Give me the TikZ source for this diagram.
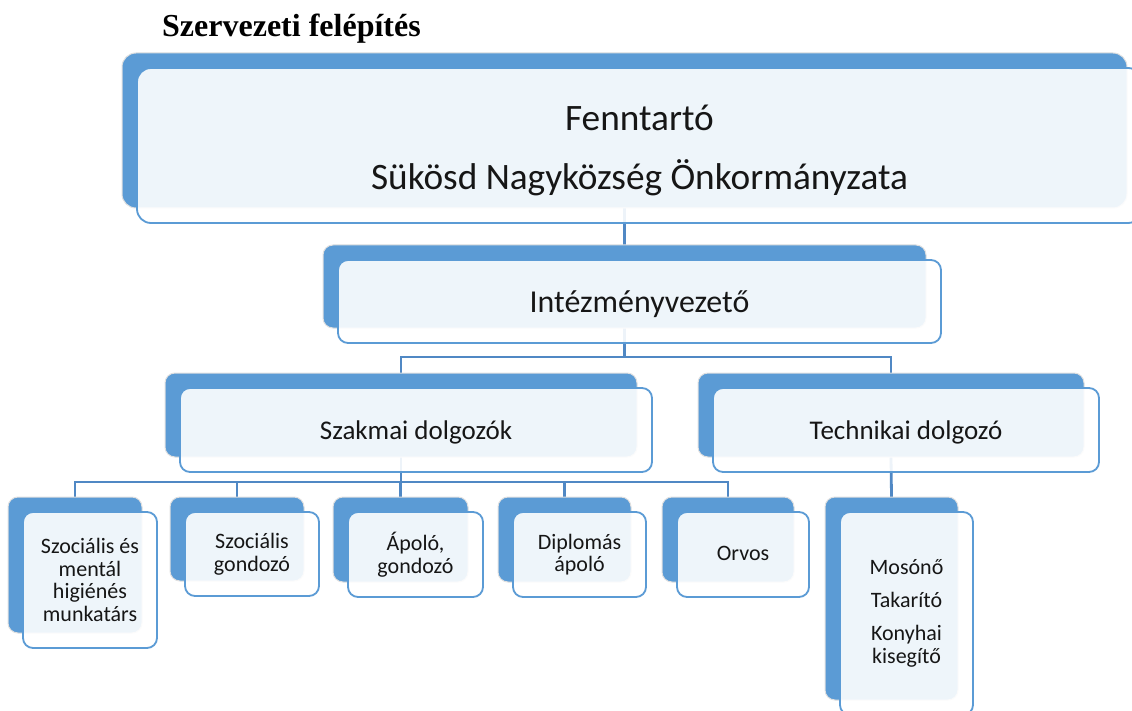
\documentclass[tikz,border=0pt]{standalone}
\usepackage{fontspec}
\setmainfont{Carlito}
\newfontfamily\titlefont{Liberation Serif}
\usetikzlibrary{backgrounds}
\definecolor{boxblue}{RGB}{91,155,213}
\definecolor{linkblue}{RGB}{80,136,196}
\definecolor{txt}{RGB}{22,22,22}
\tikzset{
  backbox/.style={fill=boxblue, draw=black!12, line width=1pt, rounded corners=10pt,
    inner sep=0pt, outer sep=0pt, anchor=north west},
  frontbox/.style={fill=white, fill opacity=0.9, draw=boxblue,
    line width=1.8pt, rounded corners=10pt, inner sep=0pt, outer sep=0pt,
    anchor=north west},
  boxtext/.style={align=center, text=txt, inner sep=0pt},
  link/.style={draw=linkblue, line width=2.8pt},
}
% name, x, y, w, h, extra style, text y offset, font, text
\newcommand\orgbox[9]{%
  \node[backbox, minimum width=#4, minimum height=#5, #6] (#1B) at (#2,#3) {};
  \node[frontbox, minimum width=#4, minimum height=#5, #6] (#1F) at ({#2+15},{#3+15}) {};
  \node[boxtext, font=#8] (#1T) at ([yshift=-#7pt]#1F.center) {#9};}
\begin{document}
\begin{tikzpicture}[x=1pt, y=-1pt]
\useasboundingbox (0,0) rectangle (1132,711);
\clip (0,0) rectangle (1132,711);
\node[anchor=base west, inner sep=0pt, font=\titlefont\bfseries\fontsize{32}{34}\selectfont] (title) at (162,37) {Szervezeti felépítés};

\orgbox{f}{122}{53}{1005}{155}{rounded corners=14pt}{5}{\fontsize{37.3}{59}\selectfont}{Fenntartó\\Sükösd Nagyközség Önkormányzata}
\orgbox{i}{323}{245}{603}{83}{}{3}{\fontsize{31.9}{36}\selectfont}{Intézményvezető}
\orgbox{s}{165}{373}{472}{84}{}{2}{\fontsize{27}{30}\selectfont}{Szakmai dolgozók}
\orgbox{t}{698}{373}{386}{84}{}{2}{\fontsize{27}{30}\selectfont}{Technikai dolgozó}
\orgbox{ba}{8}{497}{134}{136}{}{0}{\fontsize{22}{22.5}\selectfont}{Szociális és\\mentál\\higiénés\\munkatárs}
\orgbox{bb}{170}{497}{134}{84}{}{0}{\fontsize{22}{22.5}\selectfont}{Szociális\\gondozó}
\orgbox{bc}{333}{497}{135}{85}{}{0}{\fontsize{22}{22.5}\selectfont}{Ápoló,\\gondozó}
\orgbox{bd}{498}{497}{133}{85}{}{0}{\fontsize{22}{22.5}\selectfont}{Diplomás\\ápoló}
\orgbox{be}{662}{497}{132}{85}{}{-1}{\fontsize{22}{22.5}\selectfont}{Orvos}
\orgbox{bf}{825}{497}{133}{203}{}{0}{\fontsize{22}{22.5}\selectfont}{Mosónő\\[10.5pt]Takarító\\[10.5pt]Konyhai\\kisegítő}

\coordinate (ji) at (624.5,357);
\coordinate (js) at (401,482);
\begin{scope}[on background layer]
  \fill[white] (0,0) rectangle (1132,711);
  \draw[link] (fB.south) -- (iB.north);
  \draw[link] (iB.south) -- (ji);
  \draw[link] (sB.north) |- (ji) -| (tB.north);
  \draw[link] (sB.south) -- (js);
  \draw[link] (baB.north) |- (js) -| (beB.north);
  \draw[link] (bbB.north) -- (bbB.north |- js);
  \draw[link] (bcB.north) -- (bcB.north |- js);
  \draw[link] (bdB.north) -- (bdB.north |- js);
  \draw[link] (tB.south) -- (bfB.north);
\end{scope}
\end{tikzpicture}
\end{document}
